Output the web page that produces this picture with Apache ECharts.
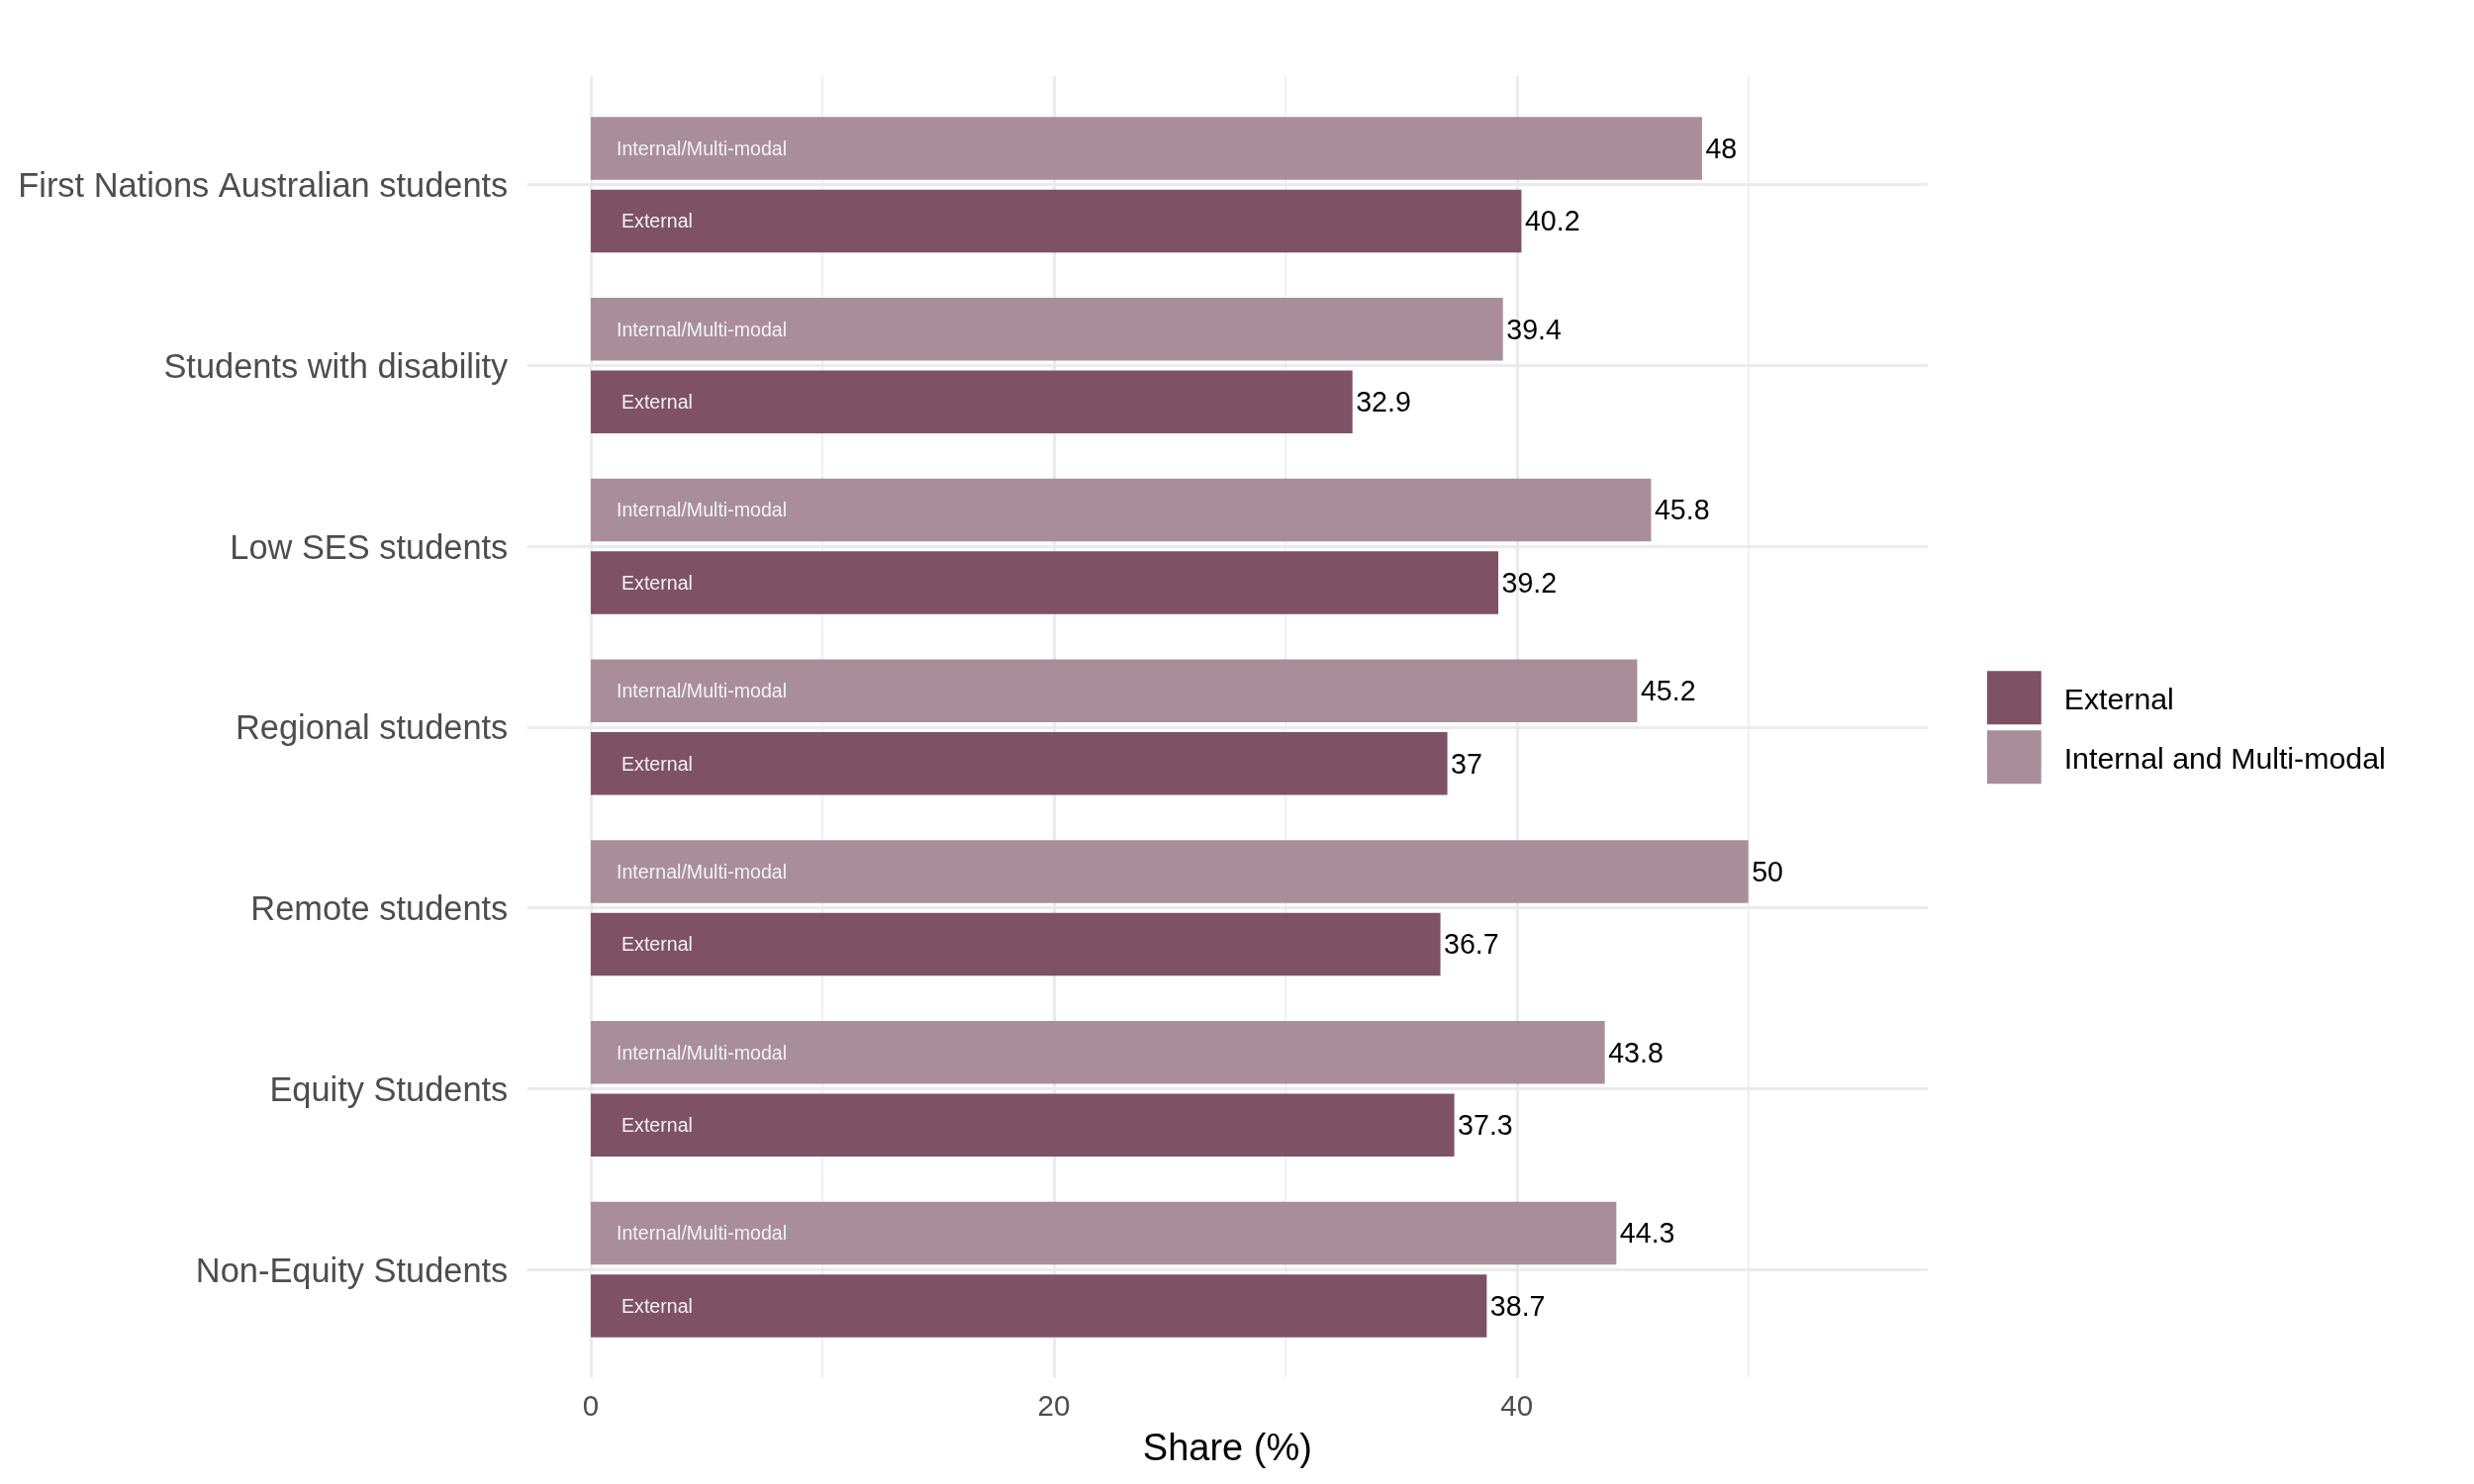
<!DOCTYPE html>
<html>
<head>
<meta charset="utf-8">
<script src="https://cdn.jsdelivr.net/npm/echarts@6/dist/echarts.min.js"></script>
<style>html,body{margin:0;padding:0;background:#fff}#chart{width:2500px;height:1500px}</style>
</head>
<body>
<div id="chart"></div>
<script>
// ---- data ----
const categories = [
  'First Nations Australian students',
  'Students with disability',
  'Low SES students',
  'Regional students',
  'Remote students',
  'Equity Students',
  'Non-Equity Students'
];
const internalValues = [48, 39.4, 45.8, 45.2, 50, 43.8, 44.3];
const externalValues = [40.2, 32.9, 39.2, 37, 36.7, 37.3, 38.7];
const xTickLabels = [0, 20, 40];
const legendNames = ['External', 'Internal and Multi-modal'];
const barTextExternal = 'External';
const barTextInternal = 'Internal/Multi-modal';
const axisTitle = 'Share (%)';

// ---- styles ----
const FONT = "'Liberation Sans', Arial, Helvetica, sans-serif";
const C_EXT = '#7e5164';
const C_INT = '#a98e9a';
const GRIDC = '#ebebeb';

const chart = echarts.init(document.getElementById('chart'), null, {renderer: 'canvas'});

const barCommon = {
  type: 'bar',
  barWidth: 63.5,
  barGap: '15.7%'
};

const legendCommon = {
  data: legendNames,
  orient: 'vertical',
  left: 2008,
  padding: 0,
  itemWidth: 54.7, itemHeight: 54, itemGap: 6,
  icon: 'rect',
  selectedMode: false
};

const option = {
  animation: false,
  backgroundColor: '#ffffff',
  textStyle: {fontFamily: FONT},
  grid: [
    {left: 597, right: 552, top: 77.1, bottom: 107.4},    // vertical grid lines
    {left: 532.7, right: 552, top: 95.3, bottom: 125.4},  // bars
    {left: 532.7, right: 552, top: 186.7, bottom: 217},   // horizontal grid lines
    {left: 532.7, right: 552, top: 95.3, bottom: 125.4},  // value labels
    {left: 532.7, right: 552, top: 98.3, bottom: 122.4}   // category labels
  ],
  xAxis: [
    {
      gridIndex: 0, type: 'value', min: 0, max: 57.75, interval: 20,
      axisLine: {show: false}, axisTick: {show: false},
      splitLine: {show: true, showMaxLine: false, lineStyle: {color: GRIDC, width: 3}},
      axisLabel: {
        show: true, margin: 15, fontSize: 29.5, color: '#4d4d4d', fontFamily: FONT,
        showMaxLabel: false,
        formatter: v => (xTickLabels.indexOf(v) >= 0 ? String(v) : '')
      }
    },
    {
      gridIndex: 0, type: 'value', min: 0, max: 57.75, interval: 10,
      axisLine: {show: false}, axisTick: {show: false}, axisLabel: {show: false},
      splitLine: {show: true, showMaxLine: false, lineStyle: {color: GRIDC, width: 1.5}}
    },
    {
      gridIndex: 1, type: 'value', min: -2.75, max: 57.75,
      axisLine: {show: false}, axisTick: {show: false}, axisLabel: {show: false},
      splitLine: {show: false},
      name: axisTitle, nameLocation: 'middle', nameGap: 72,
      nameTextStyle: {fontSize: 38, color: '#000000', fontFamily: FONT}
    },
    {gridIndex: 2, type: 'value', min: 0, max: 1, show: false},
    {gridIndex: 3, type: 'value', min: -2.75, max: 57.75, show: false},
    {gridIndex: 4, type: 'value', min: 0, max: 1, show: false}
  ],
  yAxis: [
    {gridIndex: 0, type: 'value', show: false},
    {gridIndex: 1, type: 'category', inverse: true, data: categories, show: false},
    {
      gridIndex: 2, type: 'value', inverse: true, min: 0, max: categories.length - 1, interval: 1,
      axisLine: {show: false}, axisTick: {show: false}, axisLabel: {show: false},
      splitLine: {show: true, lineStyle: {color: GRIDC, width: 3}}
    },
    {gridIndex: 3, type: 'category', inverse: true, data: categories, show: false},
    {
      gridIndex: 4, type: 'category', inverse: true, data: categories,
      axisLine: {show: false}, axisTick: {show: false}, splitLine: {show: false},
      axisLabel: {fontSize: 34.4, color: '#4d4d4d', margin: 19.4, fontFamily: FONT}
    }
  ],
  legend: [
    Object.assign({}, legendCommon, {
      top: 678.3,
      formatter: () => '',
      textStyle: {fontSize: 30.3, color: '#000000', fontFamily: FONT}
    }),
    Object.assign({}, legendCommon, {
      top: 681.3,
      itemStyle: {opacity: 0},
      textStyle: {fontSize: 30.3, color: '#000000', fontFamily: FONT, padding: [0, 0, 0, 18]}
    })
  ],
  series: [
    Object.assign({}, barCommon, {
      name: legendNames[1], xAxisIndex: 2, yAxisIndex: 1, data: internalValues,
      itemStyle: {color: C_INT},
      label: {show: true, position: 'insideLeft', distance: 26, offset: [0, 1.5], formatter: barTextInternal,
              fontSize: 19.6, color: '#f2f2f2', fontFamily: FONT}
    }),
    Object.assign({}, barCommon, {
      name: legendNames[0], xAxisIndex: 2, yAxisIndex: 1, data: externalValues,
      itemStyle: {color: C_EXT},
      label: {show: true, position: 'insideLeft', distance: 31, offset: [0, 1.5], formatter: barTextExternal,
              fontSize: 19.6, color: '#f2f2f2', fontFamily: FONT}
    }),
    Object.assign({}, barCommon, {
      name: 'internal-values', xAxisIndex: 4, yAxisIndex: 3, data: internalValues, silent: true,
      itemStyle: {color: 'rgba(0,0,0,0)'},
      label: {show: true, position: 'right', distance: 3.5, offset: [0, 2], fontSize: 28.6, color: '#000000', fontFamily: FONT}
    }),
    Object.assign({}, barCommon, {
      name: 'external-values', xAxisIndex: 4, yAxisIndex: 3, data: externalValues, silent: true,
      itemStyle: {color: 'rgba(0,0,0,0)'},
      label: {show: true, position: 'right', distance: 3.5, offset: [0, 2], fontSize: 28.6, color: '#000000', fontFamily: FONT}
    })
  ]
};

chart.setOption(option);
</script>
</body>
</html>
